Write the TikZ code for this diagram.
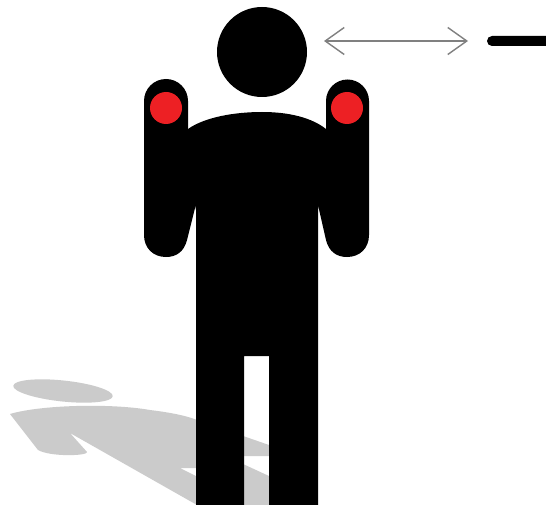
\documentclass[tikz,border=0pt]{standalone}
\usetikzlibrary{arrows.meta}
\definecolor{shadowgray}{HTML}{CBCBCB}
\definecolor{marker}{HTML}{ED2024}
\definecolor{arrowgray}{HTML}{808080}
\tikzset{
  shadowpart/.style={fill=shadowgray,draw=none},
  bodypart/.style={fill=black,draw=none},
  markerdot/.style={circle,fill=marker,draw=none,minimum size=32pt,inner sep=0pt},
  headshape/.style={circle,fill=black,draw=none,minimum size=90pt,inner sep=0pt},
  gaugearrow/.style={draw=arrowgray,line width=1.4pt,{Straight Barb[length=19pt,width=27pt]}-{Straight Barb[length=19pt,width=27pt]}}
}
\begin{document}
\begin{tikzpicture}[x=1pt,y=-1pt]
\path[use as bounding box,fill=white] (0,0) rectangle (546,505);
% shadow
\path[shadowpart,rotate around={-6:(63,391)}] (63,391) ellipse[x radius=50,y radius=10.5];
\path[shadowpart] (10,414) .. controls (40,405) and (110,403) .. (150,410) .. controls (175,413) and (190,417) .. (197,420) -- (269,445) -- (269,456) -- (196,456) -- (196,468) -- (180,468) -- (196,476) -- (196,464) -- (243,464) -- (269,476) -- (269,505) -- (197,505) -- (70,433) -- (87,452) .. controls (88,456) and (50,457) .. (38,450) -- cycle;
% arms
\path[bodypart] (144,101) arc[start angle=180,end angle=360,radius=22] -- (188,135) -- (197,200) -- (187,240) .. controls (184,252) and (176,257) .. (166,257) .. controls (153,257) and (144,248) .. (144,235) -- cycle;
\path[bodypart] (369,101) arc[start angle=0,end angle=-180,radius=21.5] -- (326,135) -- (318,205) -- (326,240) .. controls (329,252) and (337,257) .. (347,257) .. controls (360,257) and (369,248) .. (369,235) -- cycle;
% torso and legs
\path[bodypart] (188,129) .. controls (205,117) and (235,112) .. (262,112) .. controls (290,112) and (312,118) .. (326,129) -- (326,170) -- (318,210) -- (318,505) -- (269,505) -- (269,356) -- (244,356) -- (244,505) -- (196,505) -- (196,210) -- (188,170) -- cycle;
% head and markers
\node[headshape] (head) at (262,52) {};
\node[markerdot] (markerL) at (166,108) {};
\node[markerdot] (markerR) at (347,108) {};
% measurement
\coordinate (arrowL) at (324,41);
\coordinate (arrowR) at (468,41);
\draw[gaugearrow] (arrowL) -- (arrowR);
\path[bodypart] (546,36) -- (492,36) arc[start angle=270,end angle=90,radius=5] -- (546,46) -- cycle;
\end{tikzpicture}
\end{document}
